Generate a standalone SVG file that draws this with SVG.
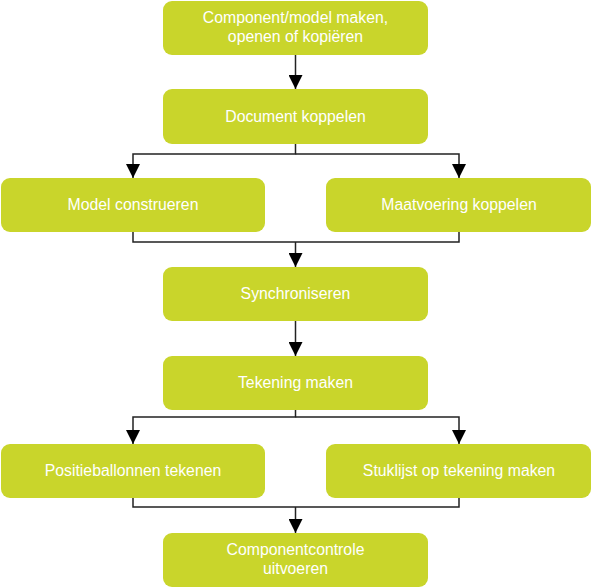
<svg xmlns="http://www.w3.org/2000/svg" width="591" height="588" viewBox="0 0 591 588">
<style>
.box{fill:#c9d52b;}
.t{font-family:"Liberation Sans",Arial,sans-serif;font-size:15.8px;fill:#ffffff;text-anchor:middle;}
.ln{fill:none;stroke:#222;stroke-width:1.5;}
</style>
<defs>
<marker id="ah" markerWidth="14" markerHeight="14" refX="14" refY="7" orient="auto" markerUnits="userSpaceOnUse">
<path d="M0,0 L14,7 L0,14 Z" fill="#000"/>
</marker>
</defs>
<rect width="591" height="588" fill="#fff"/>
<g id="connectors">
<path class="ln" d="M295.5,55 V89" marker-end="url(#ah)"/>
<path class="ln" d="M295.5,144 V154 H133 V178" marker-end="url(#ah)"/>
<path class="ln" d="M295.5,154 H459 V178" marker-end="url(#ah)"/>
<path class="ln" d="M133,232 V242 H459 V232"/>
<path class="ln" d="M295.5,242 V267" marker-end="url(#ah)"/>
<path class="ln" d="M295.5,321 V356" marker-end="url(#ah)"/>
<path class="ln" d="M295.5,410 V417 H133 V444" marker-end="url(#ah)"/>
<path class="ln" d="M295.5,417 H459 V444" marker-end="url(#ah)"/>
<path class="ln" d="M133,498 V507 H459 V498"/>
<path class="ln" d="M295.5,507 V533" marker-end="url(#ah)"/>
</g>
<g id="n1"><rect class="box" x="163" y="1" width="265" height="54" rx="9"/><text class="t" x="295.5" y="23">Component/model maken,</text><text class="t" x="295.5" y="42">openen of kopiëren</text></g>
<g id="n2"><rect class="box" x="163" y="89" width="265" height="55" rx="9"/><text class="t" x="295.5" y="122">Document koppelen</text></g>
<g id="n3"><rect class="box" x="1" y="178" width="264" height="54" rx="9"/><text class="t" x="133" y="210">Model construeren</text></g>
<g id="n4"><rect class="box" x="326" y="178" width="265" height="54" rx="9"/><text class="t" x="459" y="210">Maatvoering koppelen</text></g>
<g id="n5"><rect class="box" x="163" y="267" width="265" height="54" rx="9"/><text class="t" x="295.5" y="299">Synchroniseren</text></g>
<g id="n6"><rect class="box" x="163" y="356" width="265" height="54" rx="9"/><text class="t" x="295.5" y="388">Tekening maken</text></g>
<g id="n7"><rect class="box" x="1" y="444" width="264" height="54" rx="9"/><text class="t" x="133" y="476">Positieballonnen tekenen</text></g>
<g id="n8"><rect class="box" x="326" y="444" width="265" height="54" rx="9"/><text class="t" x="459" y="476">Stuklijst op tekening maken</text></g>
<g id="n9"><rect class="box" x="163" y="533" width="265" height="54" rx="9"/><text class="t" x="295.5" y="555">Componentcontrole</text><text class="t" x="295.5" y="574">uitvoeren</text></g>
</svg>
